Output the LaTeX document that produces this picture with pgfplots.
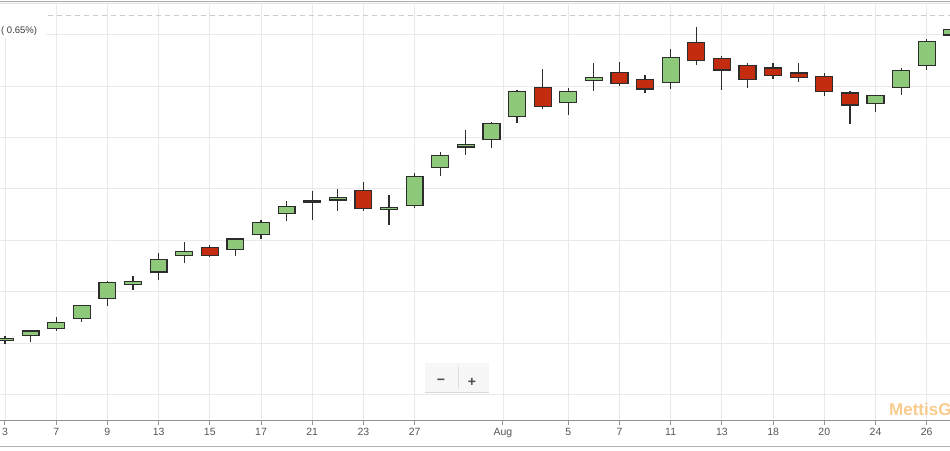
\documentclass[border=0pt]{standalone}
\usepackage{fontspec}
\setmainfont{Liberation Sans}
\usepackage{pgfplots}
\pgfplotsset{compat=1.18}
\usepackage{pgfplotstable}

\definecolor{upgreen}{RGB}{142,201,122}
\definecolor{downred}{RGB}{196,44,16}
\definecolor{edge}{RGB}{45,45,45}
\definecolor{gridc}{RGB}{233,233,233}
\definecolor{ticktext}{RGB}{85,85,85}
\definecolor{wm}{RGB}{248,203,142}

% daily candles: index, open, high, low, close
\pgfplotstableread{
i  O     H     L     C
0  15.5  16.3  14.7  15.9
1  16.5  17.6  15.2  17.3
2  17.8  20.0  17.4  19.0
3  19.7  22.3  19.0  22.2
4  23.7  27.0  22.2  26.7
5  26.3  28.0  25.2  27.0
6  28.8  32.4  27.2  31.3
7  32.0  34.6  30.5  32.8
8  33.6  34.1  31.7  32.0
9  33.1  35.3  32.0  35.2
10 36.1  38.9  35.2  38.5
11 40.2  42.6  38.7  41.6
12 42.7  44.6  39.0  42.4
13 42.8  45.0  40.7  43.3
14 44.7  46.3  40.7  41.1
15 40.9  43.7  37.9  41.3
16 41.8  48.1  41.3  47.3
17 49.1  52.1  47.5  51.5
18 53.1  56.4  51.6  53.6
19 54.5  58.0  52.9  57.7
20 59.0  64.3  57.8  63.9
21 64.7  68.3  60.5  61.0
22 61.7  64.5  59.4  63.9
23 66.1  69.4  64.1  66.7
24 67.6  69.7  64.9  65.5
25 66.3  67.1  63.6  64.4
26 65.7  72.2  64.4  70.6
27 73.5  76.4  69.1  70.0
28 70.4  70.8  64.2  68.1
29 69.0  69.4  64.6  66.3
30 68.5  69.4  66.3  67.1
31 67.5  69.4  65.8  66.7
32 66.9  67.6  63.0  63.9
33 63.6  64.0  57.6  61.3
34 61.5  63.2  59.9  63.2
35 64.7  68.4  63.2  68.0
36 69.0  74.1  68.1  73.7
37 74.9  77.6  73.9  75.9
}\candles

\begin{document}
\begin{tikzpicture}[x=1pt,y=1pt]
\begin{axis}[
  scale only axis, width=950pt, height=415pt,
  xmin=-0.195, xmax=36.91, ymin=0, ymax=80.74,
  axis x line*=bottom, axis y line*=left,
  y axis line style={draw=none},
  x axis line style={gray!85, line width=1pt},
  ytick={5,15,...,75}, yticklabels={},
  ytick style={draw=none},
  xtick={0,2,4,6,8,10,12,14,16,19.45,22,24,26,28,30,32,34,36},
  xticklabels={3,7,9,13,15,17,21,23,27,Aug,5,7,11,13,18,20,24,26},
  xtick align=outside,
  major tick length=5pt,
  xtick style={gray!85, line width=1pt},
  xticklabel style={font=\fontsize{10.5}{12}\selectfont, text=ticktext},
  grid=major,
  major grid style={gridc, line width=0.8pt},
]
\coordinate (ll) at (rel axis cs:0,0);
% wicks (error bars from low to high, no visible marker)
\addplot[only marks, mark=text, text mark={}, forget plot,
  error bars/.cd, y dir=both, y explicit, error mark=none,
  error bar style={edge, line width=1.2pt}]
  table[x=i, y expr={(\thisrow{H}+\thisrow{L})/2},
        y error expr={(\thisrow{H}-\thisrow{L})/2}] {\candles};
% bodies: invisible base, then rising and falling parts
\addplot[ybar, bar width=0.66, bar shift=0pt, stack plots=y,
  draw=none, fill=none, forget plot]
  table[x=i, y expr={min(\thisrow{O},\thisrow{C})}] {\candles};
\addplot[ybar, bar width=0.66, bar shift=0pt, stack plots=y,
  draw=edge, fill=upgreen, line width=1.2pt, forget plot]
  table[x=i, y expr={max(\thisrow{C}-\thisrow{O},0)}] {\candles};
\addplot[ybar, bar width=0.66, bar shift=0pt, stack plots=y,
  draw=edge, fill=downred, line width=1.2pt, forget plot]
  table[x=i, y expr={max(\thisrow{O}-\thisrow{C},0)}] {\candles};
% dashed reference line near the top
\addplot[gray!40, dash pattern=on 5pt off 4pt, line width=0.9pt, forget plot]
  coordinates {(1.68,78.8) (36.91,78.8)};
\end{axis}

\pgfresetboundingbox
\begin{scope}[shift={(ll)}, yshift=-30pt]
\useasboundingbox (0,0) rectangle (950,450);

% legend remnant top left
\fill[white] (0,412) rectangle (46,445);
\node[anchor=west, inner sep=0, font=\fontsize{9.5}{11}\selectfont, text=ticktext!70!black]
  at (1,419) {( 0.65\%)};

% zoom buttons
\fill[gray!6] (425,57) rectangle (489,87);
\draw[gray!30, line width=0.8pt] (425,57.4) -- (489,57.4);
\draw[gray!25, line width=0.8pt] (458,61) -- (458,84);
\node[font=\bfseries\fontsize{14}{14}\selectfont, text=black!70] at (441,68) {−};
\node[font=\bfseries\fontsize{14}{14}\selectfont, text=black!70] at (472,68) {+};

% watermark
\node[anchor=base west, inner sep=0, font=\bfseries\fontsize{17}{17}\selectfont, text=wm]
  at (889,35) {MettisGlobal};

% frame lines
\draw[gray!70, line width=1.5pt] (0,448.5) -- (950,448.5);
\draw[gray!25, line width=1pt] (0,446.3) -- (950,446.3);
\draw[gray!60, line width=1.5pt] (0,3.5) -- (950,3.5);
\end{scope}
\end{tikzpicture}
\end{document}
